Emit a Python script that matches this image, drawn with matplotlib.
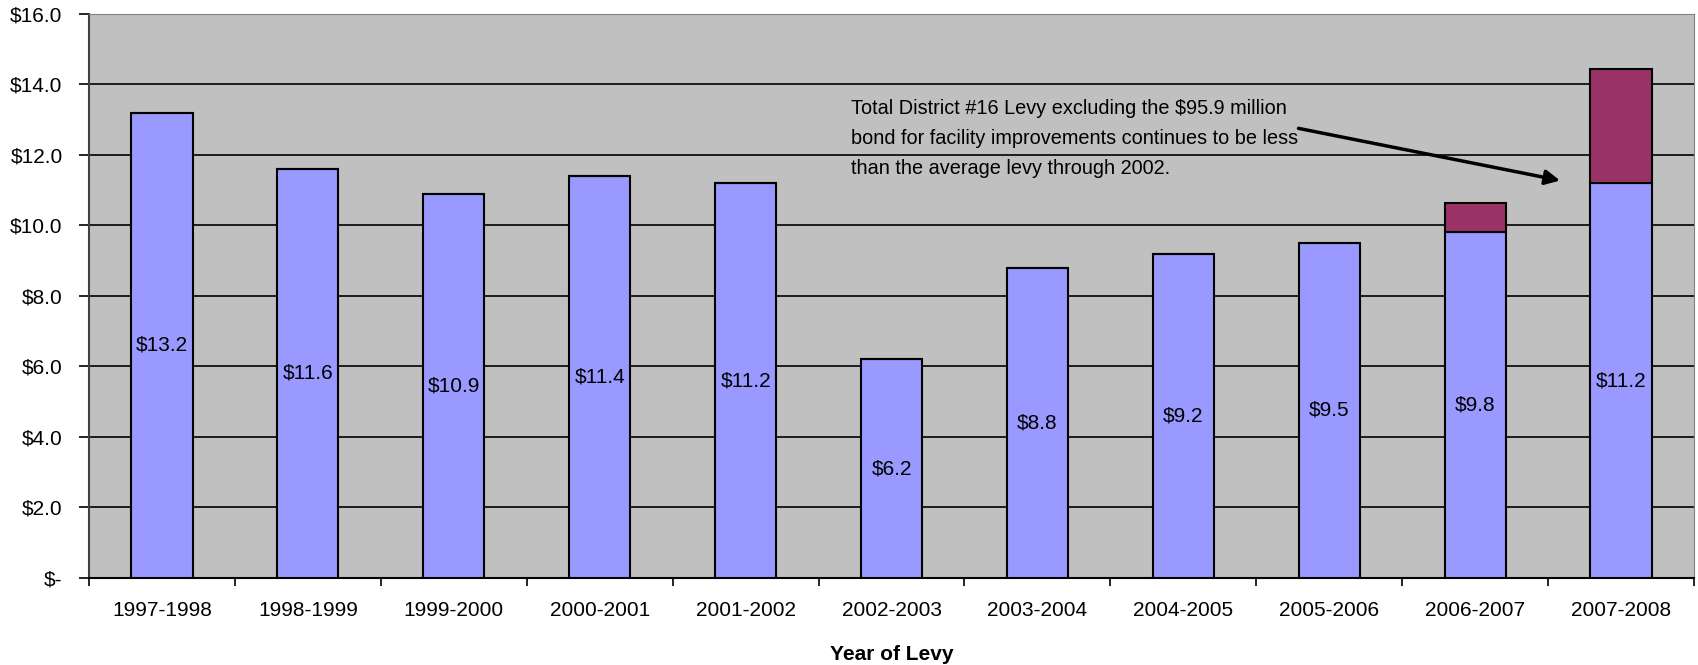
import matplotlib

matplotlib.use("Agg")
import matplotlib.pyplot as plt  # noqa: E402
import numpy as np  # noqa: E402

years = ["1997-1998", "1998-1999", "1999-2000", "2000-2001", "2001-2002", "2002-2003",
         "2003-2004", "2004-2005", "2005-2006", "2006-2007", "2007-2008"]
levy = [13.2, 11.6, 10.9, 11.4, 11.2, 6.2, 8.8, 9.2, 9.5, 9.8, 11.2]
bond = [0, 0, 0, 0, 0, 0, 0, 0, 0, 0.85, 3.25]

plt.rcParams["font.family"] = ["Liberation Sans", "DejaVu Sans"]

fig = plt.figure(figsize=(16.98, 6.65), dpi=100)
ax = fig.add_axes([0.0524, 0.131, 0.9453, 0.848])
ax.set_facecolor("#C0C0C0")

x = np.arange(len(years))
ax.bar(x, levy, width=0.42, color="#9999FF", edgecolor="black", linewidth=1.5, zorder=3)
ax.bar(x, bond, width=0.42, bottom=levy, color="#993366", edgecolor="black",
       linewidth=1.5, zorder=3)

for xi, v in zip(x, levy):
    ax.text(xi, v / 2, f"${v:.1f}", ha="center", va="center", fontsize=15, zorder=4)

ax.set_ylim(0, 16)
ax.set_xlim(-0.5, len(years) - 0.5)
ax.set_yticks(np.arange(0, 17, 2))
ax.set_yticklabels(["$-"] + [f"${v:.1f}" for v in np.arange(2, 17, 2)], fontsize=15)
ax.yaxis.grid(True, color="black", linewidth=1.2, zorder=1)
ax.set_axisbelow(True)

ax.set_xticks(x)
ax.set_xticklabels(years, fontsize=15)
ax.set_xticks(np.arange(-0.5, len(years), 1), minor=True)
ax.tick_params(axis="x", which="major", length=0, pad=17)
ax.tick_params(axis="x", which="minor", length=6, width=1.2, direction="out")
ax.tick_params(axis="y", length=7, width=1.2, pad=12)

ax.spines["left"].set_color("#404040")
ax.spines["left"].set_linewidth(1.5)
ax.spines["bottom"].set_color("black")
ax.spines["bottom"].set_linewidth(1.5)
ax.spines["top"].set_color("#808080")
ax.spines["right"].set_color("#808080")

ax.set_xlabel("Year of Levy", fontsize=15, fontweight="bold", labelpad=18)

ax.annotate("", xy=(9.6, 11.26), xytext=(7.77, 12.77),
            arrowprops=dict(arrowstyle="-|>", color="black", lw=2.5, mutation_scale=22),
            zorder=5)
ax.text(4.72, 13.6,
        "Total District #16 Levy excluding the $95.9 million\n"
        "bond for facility improvements continues to be less\n"
        "than the average levy through 2002.",
        ha="left", va="top", fontsize=14.3, linespacing=1.75, zorder=5)

fig.savefig("out.png", dpi=100)
plt.close(fig)
